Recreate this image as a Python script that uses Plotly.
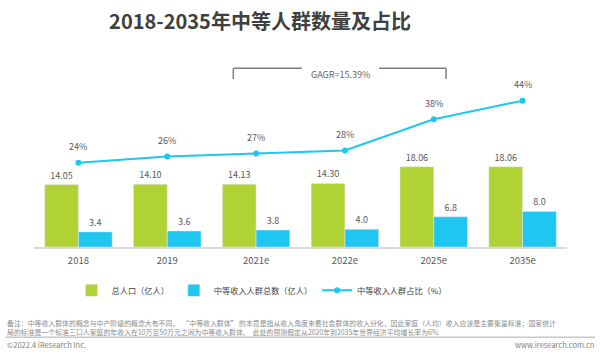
import plotly.graph_objects as go

categories = ["2018", "2019", "2021e", "2022e", "2025e", "2035e"]
total_pop = [14.05, 14.10, 14.13, 14.30, 18.06, 18.06]
middle_pop = [3.4, 3.6, 3.8, 4.0, 6.8, 8.0]
middle_pct = [24, 26, 27, 28, 38, 44]
total_labels = ["14.05", "14.10", "14.13", "14.30", "18.06", "18.06"]
middle_labels = ["3.4", "3.6", "3.8", "4.0", "6.8", "8.0"]
pct_labels = ["24%", "26%", "27%", "28%", "38%", "44%"]

series_names = ["总人口（亿人）", "中等收入人群总数（亿人）", "中等收入人群占比（%）"]
title_text = "2018-2035年中等人群数量及占比"
cagr_text = "GAGR=15.39%"
note_text = ("备注：中等收入群体的概念与中产阶级的概念大有不同，  “中等收入群体” 的本意是指从收入角度来看社会群体的收入分化，因此家庭（人均）收入应该是主要衡量标准；国家统计"
             "<br>局的标准是一个标准三口人家庭的年收入在10万至50万元之间为中等收入群体。  此处的预测假定从2020年到2035年世界经济平均增长率为6%")
footer_left = "©2022.4 iResearch Inc."
footer_right = "www.iresearch.com.cn"

GREEN = "#b1d235"
BLUE = "#1fc6ef"
FONT = "Noto Sans CJK SC"

W, H = 600, 356
L, R, T, B = 34, 567, 60, 246.7


def px(x):
    return (x - L) / (R - L)


def py(y):
    return (B - y) / (B - T)


fig = go.Figure()
fig.add_trace(go.Bar(
    x=categories, y=total_pop, name=series_names[0], marker_color=GREEN,
    text=total_labels, textposition="outside", cliponaxis=False,
    textfont=dict(size=9, color="#595959"),
))
fig.add_trace(go.Bar(
    x=categories, y=middle_pop, name=series_names[1], marker_color=BLUE,
    text=middle_labels, textposition="outside", cliponaxis=False,
    textfont=dict(size=9, color="#595959"),
))
fig.add_trace(go.Scatter(
    x=categories, y=middle_pct, name=series_names[2], yaxis="y2",
    mode="lines+markers", line=dict(color=BLUE, width=2),
    marker=dict(size=6, color=BLUE), cliponaxis=False,
))

annotations = []
for i, (v, t) in enumerate(zip(middle_pct, pct_labels)):
    annotations.append(dict(x=i, y=v, xref="x", yref="y2", text=t, showarrow=False,
                            yshift=16, font=dict(size=9, color="#595959")))

annotations.append(dict(x=(px(301.7) + px(379)) / 2, y=py(66), xref="paper", yref="paper",
                        text=cagr_text, showarrow=False, font=dict(size=9, color="#666666")))
annotations.append(dict(x=px(5), y=py(316), xref="paper", yref="paper", xanchor="left",
                        yanchor="top", align="left", text=note_text, showarrow=False,
                        font=dict(size=6.9, color="#8c8c8c")))
annotations.append(dict(x=px(5), y=py(344.5), xref="paper", yref="paper", xanchor="left",
                        yanchor="middle", text=footer_left, showarrow=False,
                        font=dict(size=7.5, color="#808080")))
annotations.append(dict(x=px(596), y=py(344.5), xref="paper", yref="paper", xanchor="right",
                        yanchor="middle", text=footer_right, showarrow=False,
                        font=dict(size=7.5, color="#808080")))

bracket = dict(color="#7f7f7f", width=1.5)
shapes = [
    dict(type="line", xref="paper", yref="paper", x0=px(233.3), x1=px(233.3), y0=py(79), y1=py(68.3), line=bracket),
    dict(type="line", xref="paper", yref="paper", x0=px(233.3), x1=px(301.7), y0=py(68.3), y1=py(68.3), line=bracket),
    dict(type="line", xref="paper", yref="paper", x0=px(379), x1=px(446), y0=py(68.3), y1=py(68.3), line=bracket),
    dict(type="line", xref="paper", yref="paper", x0=px(446), x1=px(446), y0=py(68.3), y1=py(79), line=bracket),
    dict(type="line", xref="paper", yref="paper", x0=px(5), x1=px(595), y0=py(336.7), y1=py(336.7),
         line=dict(color="#c8c8c8", width=1.5)),
]

fig.update_layout(
    width=W, height=H,
    margin=dict(l=L, r=W - R, t=T, b=H - B, autoexpand=False),
    paper_bgcolor="white", plot_bgcolor="white",
    font=dict(family=FONT, color="#595959"),
    title=dict(text="<b>" + title_text + "</b>", x=px(260), xanchor="center", xref="paper",
               y=1 - 22 / H, yref="container", yanchor="middle",
               font=dict(size=20, color="#404040", family=FONT)),
    barmode="group", bargap=0.24, bargroupgap=0,
    xaxis=dict(type="category", range=[-0.5, len(categories) - 0.5], showgrid=False,
               showline=True, linecolor="#d9d9d9", linewidth=1.5,
               ticks="", tickfont=dict(size=9.5, color="#595959"), ticklabelstandoff=4),
    yaxis=dict(range=[0, 42.05], visible=False, showgrid=False),
    yaxis2=dict(range=[-3.1, 57.1], overlaying="y", side="right", visible=False, showgrid=False),
    legend=dict(orientation="h", x=px(262), xanchor="center", y=py(290), yanchor="middle",
                font=dict(size=8.2, color="#404040"), traceorder="normal",
                itemwidth=30, tracegroupgap=0),
    annotations=annotations,
    shapes=shapes,
    showlegend=True,
)

fig.write_html(
    "out.html",
    config={"displayModeBar": False},
    post_script="document.body.style.margin='0';document.body.style.overflow='hidden';",
)
